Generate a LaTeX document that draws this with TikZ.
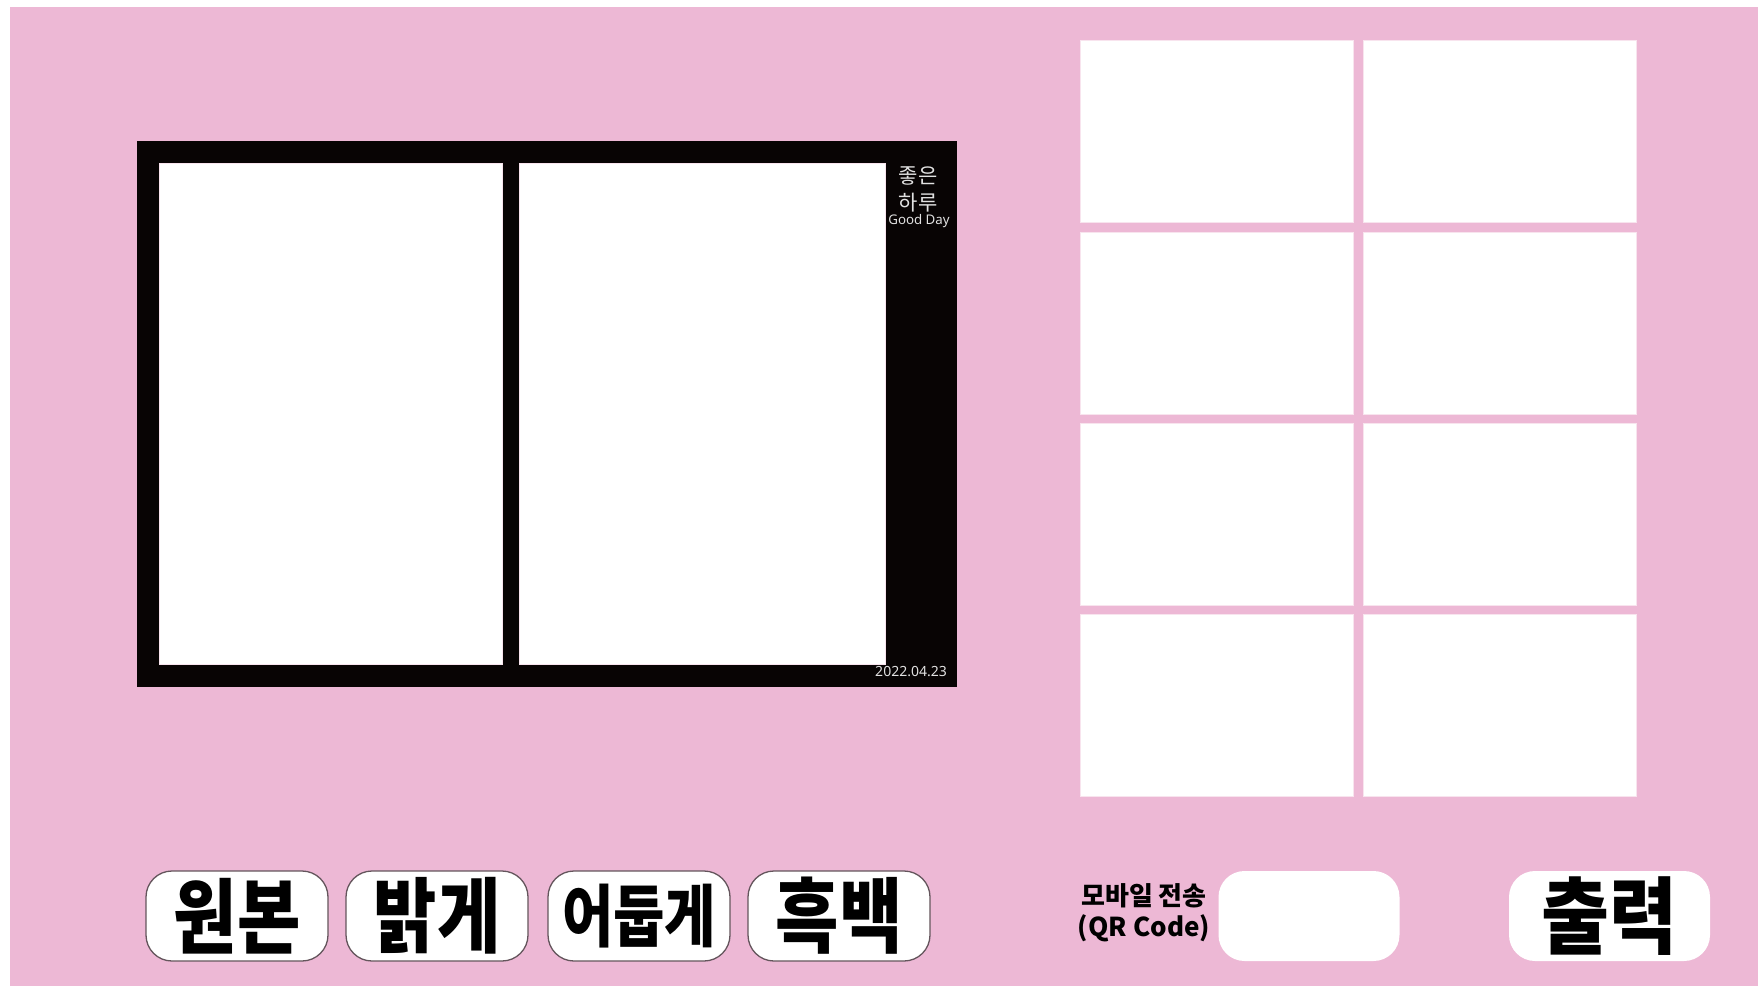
\documentclass[tikz,border=0pt]{standalone}
\usepackage{fontspec}
\newfontfamily\cjk{Noto Sans CJK KR}
\newfontfamily\latin{Noto Sans}
\definecolor{bgpink}{RGB}{237,184,213}
\definecolor{framebk}{RGB}{8,4,4}
\definecolor{btnline}{RGB}{100,85,92}
\definecolor{celledge}{RGB}{248,228,238}
\definecolor{frametext}{RGB}{225,225,225}
\tikzset{
  photo/.style={fill=white, draw=celledge, line width=0.8pt, inner sep=0pt, outer sep=0pt},
  cell/.style={fill=white, draw=celledge, line width=1pt, inner sep=0pt, outer sep=0pt, minimum width=273pt, minimum height=182pt},
  btn/.style={fill=white, draw=btnline, line width=1.3pt, rounded corners=26pt, inner sep=0pt, outer sep=0pt, minimum width=182pt, minimum height=90pt},
  plainbtn/.style={fill=white, rounded corners=26pt, inner sep=0pt, outer sep=0pt, minimum height=90pt},
  btntext/.style={font=\cjk\bfseries, text=black, inner sep=0pt}
}
\begin{document}
\begin{tikzpicture}[x=1pt,y=-1pt]
\useasboundingbox (0,0) rectangle (1758,986);
\fill[white] (0,0) rectangle (1758,986);
\fill[bgpink] (10,7) rectangle (1758,986);
% frame
\node[fill=framebk, inner sep=0pt, outer sep=0pt, minimum width=820pt, minimum height=546pt] (frame) at (547,414) {};
\node[photo, minimum width=343pt, minimum height=501pt] (photoA) at (330.5,413.5) {};
\node[photo, minimum width=366pt, minimum height=501pt] (photoB) at (702,413.5) {};
\node[text=frametext, font=\cjk\fontsize{21}{27}\selectfont, align=center, inner sep=0pt] (title) at (918,189) {좋은\\하루};
\node[text=frametext, font=\latin\fontsize{13.3}{15}\selectfont, inner sep=0pt] (goodday) at (919,221) {Good Day};
\node[text=frametext, font=\latin\fontsize{14}{16}\selectfont, inner sep=0pt, anchor=east] (date) at (947,672) {2022.04.23};
% grid
\node[cell] (c11) at (1216.5,131) {};
\node[cell] (c12) at (1500,131) {};
\node[cell] (c21) at (1216.5,323) {};
\node[cell] (c22) at (1500,323) {};
\node[cell] (c31) at (1216.5,514) {};
\node[cell] (c32) at (1500,514) {};
\node[cell] (c41) at (1216.5,705.5) {};
\node[cell] (c42) at (1500,705.5) {};
% buttons
\node[btn] (b1) at (237,916) {};
\node[btntext] at (b1) {\fontsize{82}{82}\selectfont\scalebox{0.84}[1]{원본}};
\node[btn] (b2) at (437,916) {};
\node[btntext] at (b2) {\fontsize{82}{82}\selectfont\scalebox{0.84}[1]{밝게}};
\node[btn] (b3) at (639,916) {};
\node[btntext] at (b3) {\fontsize{68}{68}\selectfont\scalebox{0.82}[1]{어둡게}};
\node[btn] (b4) at (839,916) {};
\node[btntext] at (b4) {\fontsize{82}{82}\selectfont\scalebox{0.84}[1]{흑백}};
% QR
\node[font=\cjk\bfseries\fontsize{26}{31}\selectfont, align=center, inner sep=0pt] (qrlabel) at (1144,913) {모바일 전송\\(QR Code)};
\node[plainbtn, minimum width=181pt] (qr) at (1309,916) {};
\node[plainbtn, minimum width=201pt] (print) at (1609.5,916) {};
\node[btntext] at (print) {\fontsize{84}{84}\selectfont\scalebox{0.88}[1]{출력}};
\end{tikzpicture}
\end{document}
